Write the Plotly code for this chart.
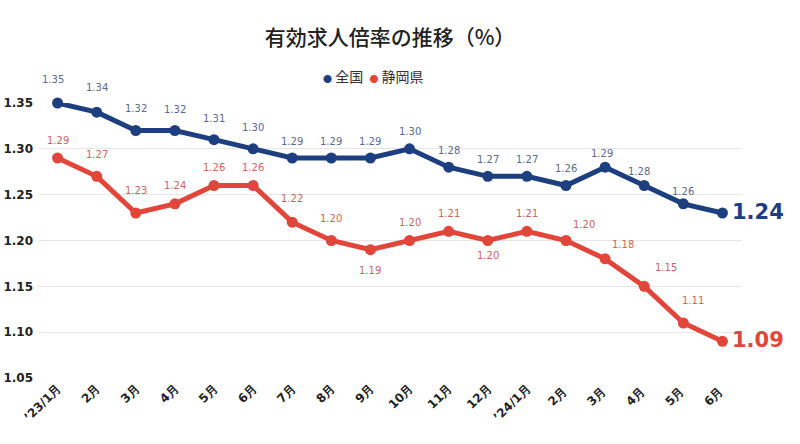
import plotly.graph_objects as go

categories = ["’23/1月", "2月", "3月", "4月", "5月", "6月", "7月", "8月", "9月",
              "10月", "11月", "12月", "’24/1月", "2月 ", "3月 ", "4月 ", "5月 ", "6月 "]

# plotted positions
national_values = [1.35, 1.34, 1.32, 1.32, 1.31, 1.30, 1.29, 1.29, 1.29,
                   1.30, 1.28, 1.27, 1.27, 1.26, 1.28, 1.26, 1.24, 1.23]
# data labels as printed on the chart
national_labels = [1.35, 1.34, 1.32, 1.32, 1.31, 1.30, 1.29, 1.29, 1.29,
                   1.30, 1.28, 1.27, 1.27, 1.26, 1.29, 1.28, 1.26, 1.24]

shizuoka_values = [1.29, 1.27, 1.23, 1.24, 1.26, 1.26, 1.22, 1.20, 1.19,
                   1.20, 1.21, 1.20, 1.21, 1.20, 1.18, 1.15, 1.11, 1.09]
shizuoka_labels = shizuoka_values

y_ticks = [1.05, 1.10, 1.15, 1.20, 1.25, 1.30, 1.35]

NAVY = "#1e3f7f"
RED = "#e2463a"
NAVY_LABEL = "#5a6a8c"
RED_LABEL = "#c9665e"
FONT = "DejaVu Sans"

# label placement styles (index -> (xshift, yshift))
navy_label_style = {0: (-5, 24), 1: (0, 25), 2: (0, 22), 3: (0, 21), 4: (0, 21), 5: (0, 21),
                    14: (-3, 14), 15: (-5, 14), 16: (0, 12)}
red_label_style = {1: (0, 22), 2: (0, 23), 6: (0, 24), 7: (0, 22), 8: (0, -21), 11: (0, -15),
                   13: (18, 16), 14: (18, 14), 15: (22, 19), 16: (10, 23)}

fig = go.Figure()
fig.add_trace(go.Scatter(x=categories, y=national_values, mode="lines+markers",
                         name="全国", line=dict(color=NAVY, width=5),
                         marker=dict(size=11, color=NAVY), cliponaxis=False,
                         showlegend=False))
fig.add_trace(go.Scatter(x=categories, y=shizuoka_values, mode="lines+markers",
                         name="静岡県", line=dict(color=RED, width=5),
                         marker=dict(size=11, color=RED), cliponaxis=False,
                         showlegend=False))

annotations = []
n = len(categories)
for i in range(n - 1):
    xs, ys = navy_label_style.get(i, (0, 17))
    annotations.append(dict(x=categories[i], y=national_values[i], text=f"{national_labels[i]:.2f}",
                            showarrow=False, yshift=ys, xshift=xs,
                            font=dict(family=FONT, size=10, color=NAVY_LABEL)))
    xs, ys = red_label_style.get(i, (0, 18))
    annotations.append(dict(x=categories[i], y=shizuoka_values[i], text=f"{shizuoka_labels[i]:.2f}",
                            showarrow=False, yshift=ys, xshift=xs,
                            font=dict(family=FONT, size=10, color=RED_LABEL)))

annotations.append(dict(x=categories[-1], y=national_values[-1], text=f"<b>{national_labels[-1]:.2f}</b>",
                        showarrow=False, xanchor="left", xshift=8, yshift=1,
                        font=dict(family=FONT, size=21, color=NAVY)))
annotations.append(dict(x=categories[-1], y=shizuoka_values[-1], text=f"<b>{shizuoka_labels[-1]:.2f}</b>",
                        showarrow=False, xanchor="left", xshift=8, yshift=1,
                        font=dict(family=FONT, size=21, color=RED)))

# legend
annotations.append(dict(xref="paper", yref="paper", x=0.477, y=1, yshift=27,
                        xanchor="center", yanchor="middle", showarrow=False,
                        text=(f"<span style='color:{NAVY};font-size:9px'>●</span> 全国  "
                              f"<span style='color:{RED};font-size:9px'>●</span> 静岡県"),
                        font=dict(family="Noto Sans CJK JP", size=14, color="#333333")))

fig.update_layout(
    width=800, height=444,
    margin=dict(l=38, r=58, t=103, b=66),
    paper_bgcolor="white", plot_bgcolor="white",
    title=dict(text="有効求人倍率の推移（%）", x=0.4875, xanchor="center",
               y=1 - 38 / 444, yanchor="middle",
               font=dict(family="Noto Sans CJK JP", size=21, color="#222222", weight=500)),
    annotations=annotations,
    showlegend=False,
)
fig.update_xaxes(type="category", range=[-0.5, n - 0.5], tickangle=-45, automargin=False,
                 showgrid=False, showline=False, ticks="",
                 tickfont=dict(family=FONT, size=12, color="#222222", weight="bold"))
fig.update_yaxes(range=[1.05, 1.35], tickvals=y_ticks, ticktext=[f"{v:.2f}" for v in y_ticks],
                 automargin=False,
                 showgrid=True, gridcolor="#e6e6e6", gridwidth=1, zeroline=False,
                 showline=False, ticks="", ticklabelstandoff=4,
                 tickfont=dict(family=FONT, size=12, color="#222222", weight="bold"))

fig.write_html("out.html", config={"displayModeBar": False},
               post_script="document.body.style.margin='0';")
